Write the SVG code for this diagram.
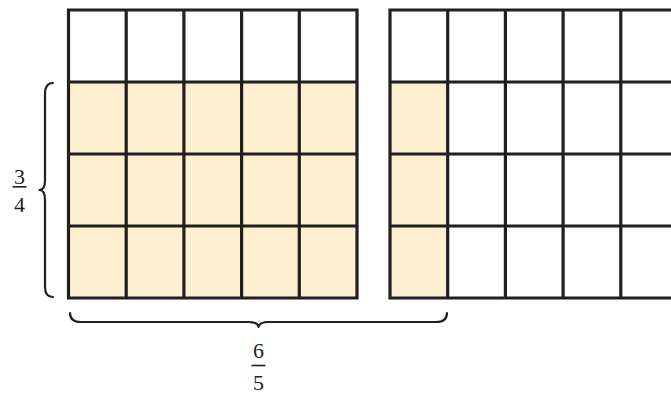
<svg xmlns="http://www.w3.org/2000/svg" width="671" height="394" viewBox="0 0 671 394">
<style>
.fill{fill:#fdf0d1;stroke:none}
.grid{stroke:#231f20;stroke-width:3.2;fill:none;stroke-linecap:square}
.brace{stroke:#231f20;stroke-width:2.2;fill:none;stroke-linecap:round;stroke-linejoin:round}
.num{font-family:"Liberation Serif",serif;font-size:22px;fill:#231f20;text-anchor:middle}
.bar{stroke:#231f20;stroke-width:1.6}
</style>
<rect width="671" height="394" fill="#ffffff"/>
<g id="left-grid">
<rect class="fill" x="68.5" y="82" width="288.5" height="216"/>
<path class="grid" d="M68.5,10H357M68.5,82H357M68.5,154H357M68.5,226H357M68.5,298H357M68.5,10V298M126.2,10V298M183.9,10V298M241.6,10V298M299.3,10V298M357,10V298"/>
</g>
<g id="right-grid">
<rect class="fill" x="390" y="82" width="57.7" height="216"/>
<path class="grid" d="M390,10H680M390,82H680M390,154H680M390,226H680M390,298H680M390,10V298M447.7,10V298M505.4,10V298M563.1,10V298M620.8,10V298"/>
</g>
<g id="left-brace">
<path class="brace" d="M53,83 Q45,83 45,94 L45,180 Q45,190 39.5,190 Q45,190 45,200 L45,287 Q45,297 53,297"/>
<text class="num" x="19.5" y="183.5">3</text>
<line class="bar" x1="12.5" y1="186.8" x2="26.5" y2="186.8"/>
<text class="num" x="19.5" y="212">4</text>
</g>
<g id="bottom-brace">
<path class="brace" d="M70,313 Q70,322 81,322 L248,322 Q258,322 258.5,327 Q259,322 269,322 L436,322 Q447,322 447,313"/>
<text class="num" x="258.5" y="357.5">6</text>
<line class="bar" x1="251.5" y1="365.5" x2="265.5" y2="365.5"/>
<text class="num" x="258.5" y="389.5">5</text>
</g>
</svg>
